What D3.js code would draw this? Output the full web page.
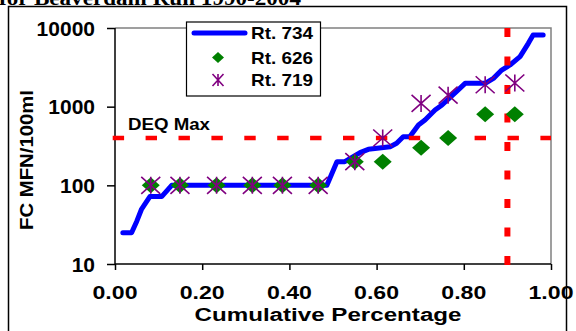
<!DOCTYPE html>
<html><head><meta charset="utf-8">
<script src="https://cdn.jsdelivr.net/npm/d3@7/dist/d3.min.js"></script>
<style>html,body{margin:0;padding:0;background:#fff;overflow:hidden}</style>
</head><body>
<svg id="c" width="576" height="331"></svg>
<script>
// ---- data ----
const titleText = "for Beaverdam Run 1990-2004";
const rt734X = [0.018,0.038,0.050,0.061,0.080,0.107,0.130,0.486,0.509,0.527,0.562,0.581,0.631,0.646,0.661,0.676,0.696,0.711,0.734,0.750,0.783,0.803,0.849,0.868,0.887,0.906,0.929,0.948,0.959,0.982];
const rt734Y = [25,25,35,50,72,72,100,100,200,200,260,287,310,342,415,415,585,677,907,1050,1550,1980,1980,2290,2920,3390,4320,6380,8150,8150];
const markerX = [0.082,0.149,0.233,0.315,0.384,0.466,0.550,0.614,0.702,0.764,0.849,0.917];
const rt626 = [100,100,100,100,100,100,200,200,300,400,800,800];
const rt719 = [100,100,100,100,100,100,200,400,1100,1400,1900,2000];
const deqMax = 400;
const cutoffPct = 0.90;
const xTicks = [0,0.2,0.4,0.6,0.8,1.0];
const xTickLabels = ["0.00","0.20","0.40","0.60","0.80","1.00"];
const yTicks = [10,100,1000,10000];
const yTickLabels = ["10","100","1000","10000"];
const seriesNames = ["Rt. 734","Rt. 626","Rt. 719"];

const svg = d3.select("#c");
const L=115, R=551, T=28, B=264;
const x = d3.scaleLinear().domain([0,1]).range([L,R]);
const y = d3.scaleLog().domain([10,10000]).range([B,T]);
const font = "'Liberation Sans', Arial, sans-serif";

function txt(g, s, opts){
  const t = g.append("text").text(s)
    .attr("x",opts.x).attr("y",opts.y)
    .attr("font-family",opts.family||font)
    .attr("font-weight","bold")
    .attr("font-size",opts.size)
    .attr("fill","#000")
    .attr("text-anchor",opts.anchor||"start");
  if(opts.baseline) t.attr("dominant-baseline",opts.baseline);
  if(opts.len){ t.attr("textLength",opts.len).attr("lengthAdjust","spacingAndGlyphs"); }
  if(opts.transform) t.attr("transform",opts.transform);
  return t;
}

// title (cut off at top)
txt(svg, titleText, {x:-1, y:5, size:22, len:302, family:"'Liberation Serif','Times New Roman',serif"});

// outer frame
svg.append("rect").attr("x",8.5).attr("y",6.5).attr("width",558).attr("height",340)
  .attr("fill","none").attr("stroke","#000").attr("stroke-width",1.5);

// plot border top & right (gray)
svg.append("path").attr("d",`M${L},${T}H${R}V${B}`).attr("fill","none")
  .attr("stroke","#808080").attr("stroke-width",1.5);

// axes
const yAxis = d3.axisLeft(y).tickValues(yTicks).tickSize(8).tickFormat(()=>"");
const gy = svg.append("g").attr("transform",`translate(${L},0)`).call(yAxis);
const xAxis = d3.axisBottom(x).tickValues(xTicks).tickSize(6).tickFormat(()=>"");
const gx = svg.append("g").attr("transform",`translate(0,${B})`).call(xAxis);
[gy,gx].forEach(g=>{g.selectAll("path,line").attr("stroke","#000").attr("stroke-width",1.5);});
gy.select(".domain").attr("d",`M0,${T}V${B}`);
gx.select(".domain").attr("d",`M${L},0H${R}`);

yTicks.forEach((v,i)=>txt(svg, yTickLabels[i], {x:95, y:y(v), size:21, anchor:"end", baseline:"central"}));
xTicks.forEach((v,i)=>txt(svg, xTickLabels[i], {x:x(v), y:299, size:19, anchor:"middle", len:45}));

txt(svg, "Cumulative Percentage", {x:328, y:321, size:18, anchor:"middle", len:267});
txt(svg, "FC MFN/100ml", {x:0, y:0, size:19, anchor:"middle", baseline:"central", len:140, transform:"translate(26,160) rotate(-90)"});

// Rt. 734 line
const line = d3.line().x((d,i)=>x(rt734X[i])).y(d=>y(d));
svg.append("path").datum(rt734Y).attr("d",line).attr("fill","none")
  .attr("stroke","#0000FF").attr("stroke-width",5).attr("stroke-linejoin","round").attr("stroke-linecap","round");

// DEQ max horizontal dashed
svg.append("line").attr("x1",112.7).attr("x2",R).attr("y1",y(deqMax)).attr("y2",y(deqMax))
  .attr("stroke","#FF0000").attr("stroke-width",4.5).attr("stroke-dasharray","11.4,21.5");
// vertical cutoff dashed
svg.append("line").attr("x1",x(cutoffPct)).attr("x2",x(cutoffPct)).attr("y1",T).attr("y2",B+1)
  .attr("stroke","#FF0000").attr("stroke-width",6).attr("stroke-dasharray","9,19.5");

txt(svg, "DEQ Max", {x:128, y:130, size:16, len:82});

// markers
function diamond(g,cx,cy,w,h){
  g.append("path").attr("d",`M${cx},${cy-h}L${cx+w},${cy}L${cx},${cy+h}L${cx-w},${cy}Z`).attr("fill","#008000");
}
function star(g,cx,cy,w,h){
  g.append("path").attr("d",`M${cx-w},${cy-h}L${cx+w},${cy+h}M${cx-w},${cy+h}L${cx+w},${cy-h}M${cx},${cy-h}L${cx},${cy+h}`)
    .attr("stroke","#800080").attr("stroke-width",1.6).attr("fill","none");
}
const gm = svg.append("g");
rt626.forEach((v,i)=>diamond(gm, x(markerX[i]), y(v), 9, 8));
rt719.forEach((v,i)=>star(gm, x(markerX[i]), y(v), 9.5, 8.5));

// legend
const lg = svg.append("g");
lg.append("rect").attr("x",186.5).attr("y",22).attr("width",134).attr("height",74)
  .attr("fill","#fff").attr("stroke","#000").attr("stroke-width",1.2);
lg.append("line").attr("x1",194).attr("x2",245).attr("y1",33).attr("y2",33)
  .attr("stroke","#0000FF").attr("stroke-width",5).attr("stroke-linecap","round");
diamond(lg, 218, 57.5, 6, 5.5);
star(lg, 218, 80, 5.5, 6);
[33,57.5,80].forEach((yy,i)=>txt(lg, seriesNames[i], {x:251, y:yy+6, size:16.3, len:62}));
</script>
</body></html>
